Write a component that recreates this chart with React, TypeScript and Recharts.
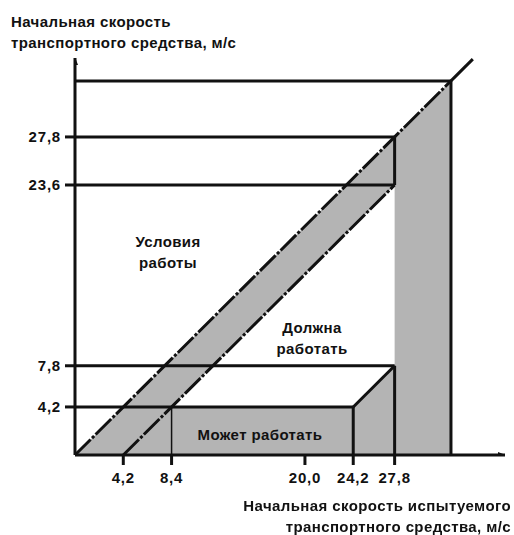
import { ComposedChart, Area, XAxis, YAxis, ReferenceLine, Scatter } from 'recharts'

// оси (м/с)
const xTicks = [4.2, 8.4, 20.0, 24.2, 27.8]
const yTicks = [4.2, 7.8, 23.6, 27.8]
const xMax = 37.4
const yMax = 34.7
const boxEdge = 32.7
const diagEnd = 34.6

// серая зона под диагональю и белая зона "Должна работать"
const areaX = [0, 8.4, 24.2, 27.8, 32.7]
const whiteLow = [null, 4.2, 4.2, 7.8, null]
const whiteHigh = [null, 4.2, 20.0, 23.6, null]

// отрезки схемы: [x1, y1, x2, y2]
const solidSegments: number[][] = [
  [0, boxEdge, boxEdge, boxEdge],
  [boxEdge, 0, boxEdge, boxEdge],
  [boxEdge, boxEdge, diagEnd, diagEnd],
  [0, 27.8, 27.8, 27.8],
  [0, 23.6, 27.8, 23.6],
  [0, 7.8, 27.8, 7.8],
  [0, 4.2, 24.2, 4.2],
  [27.8, 23.6, 27.8, 27.8],
  [27.8, 0, 27.8, 7.8],
  [24.2, 0, 24.2, 4.2],
  [24.2, 4.2, 27.8, 7.8],
]
const thinSegments: number[][] = [[8.4, 0, 8.4, 4.2]]
const dashedSegments: number[][] = [
  [0, 0, boxEdge, boxEdge],
  [4.2, 0, 27.8, 23.6],
]

const arrowUp = [{ x: 0, y: yMax }]
const arrowRight = [{ x: xMax, y: 0 }]

const data = areaX.map((x, i) => ({
  x,
  gray: x,
  white: whiteLow[i] === null ? null : [whiteLow[i], whiteHigh[i]],
}))

const fmt = (v: number) => v.toFixed(1).replace('.', ',')
const font = '"Liberation Sans", Arial, sans-serif'
const tickStyle = { fill: '#111', fontSize: 15, fontWeight: 'bold', fontFamily: font, letterSpacing: 0.8 }

const textStyle: React.CSSProperties = {
  position: 'absolute',
  fontFamily: font,
  fontWeight: 'bold',
  fontSize: 15,
  color: '#111',
  whiteSpace: 'pre',
  lineHeight: '21px',
  letterSpacing: 0.4,
}

export default function App() {
  return (
    <div style={{ position: 'fixed', left: 0, top: 0, width: 514, height: 535, background: '#fff' }}>
      <ComposedChart
        width={514}
        height={535}
        data={data}
        margin={{ top: 58, right: 9, left: 15, bottom: 50 }}
      >
        <XAxis
          dataKey="x"
          type="number"
          domain={[0, xMax]}
          ticks={xTicks}
          tickFormatter={fmt}
          allowDataOverflow
          height={30}
          tickSize={10}
          tickMargin={7}
          axisLine={{ stroke: '#111', strokeWidth: 3 }}
          tickLine={{ stroke: '#111', strokeWidth: 3 }}
          tick={tickStyle}
        />
        <YAxis
          type="number"
          domain={[0, yMax]}
          ticks={yTicks}
          tickFormatter={fmt}
          allowDataOverflow
          width={60}
          tickSize={10}
          tickMargin={4}
          axisLine={{ stroke: '#111', strokeWidth: 3 }}
          tickLine={{ stroke: '#111', strokeWidth: 3 }}
          tick={tickStyle}
        />
        <Area type="linear" dataKey="gray" baseValue={0} fill="#b4b4b4" fillOpacity={1} stroke="none" isAnimationActive={false} />
        <Area type="linear" dataKey="white" fill="#ffffff" fillOpacity={1} stroke="none" isAnimationActive={false} />
        {solidSegments.map((s, i) => (
          <ReferenceLine key={'s' + i} segment={[{ x: s[0], y: s[1] }, { x: s[2], y: s[3] }]} stroke="#111" strokeWidth={3} ifOverflow="visible" />
        ))}
        {thinSegments.map((s, i) => (
          <ReferenceLine key={'t' + i} segment={[{ x: s[0], y: s[1] }, { x: s[2], y: s[3] }]} stroke="#111" strokeWidth={1.5} ifOverflow="visible" />
        ))}
        {dashedSegments.map((s, i) => (
          <ReferenceLine key={'d' + i} segment={[{ x: s[0], y: s[1] }, { x: s[2], y: s[3] }]} stroke="#111" strokeWidth={3} strokeDasharray="22 2 3 2" ifOverflow="visible" />
        ))}
        <Scatter
          data={arrowUp}
          dataKey="y"
          isAnimationActive={false}
          shape={(p: any) => <polygon points={`${p.cx - 3},${p.cy + 7} ${p.cx + 3},${p.cy + 7} ${p.cx},${p.cy - 1}`} fill="#111" />}
        />
        <Scatter
          data={arrowRight}
          dataKey="y"
          isAnimationActive={false}
          shape={(p: any) => <polygon points={`${p.cx - 7},${p.cy - 3} ${p.cx - 7},${p.cy + 3} ${p.cx + 1},${p.cy}`} fill="#111" />}
        />
      </ComposedChart>
      <div style={{ ...textStyle, left: 11, top: 11 }}>{'Начальная скорость\nтранспортного средства, м/с'}</div>
      <div style={{ ...textStyle, right: 3, top: 495, textAlign: 'right' }}>{'Начальная скорость испытуемого\nтранспортного средства, м/с'}</div>
      <div style={{ ...textStyle, left: 118, top: 231, width: 100, textAlign: 'center' }}>{'Условия\nработы'}</div>
      <div style={{ ...textStyle, left: 262, top: 317, width: 100, textAlign: 'center' }}>{'Должна\nработать'}</div>
      <div style={{ ...textStyle, left: 190, top: 424, width: 140, textAlign: 'center' }}>{'Может работать'}</div>
    </div>
  )
}
